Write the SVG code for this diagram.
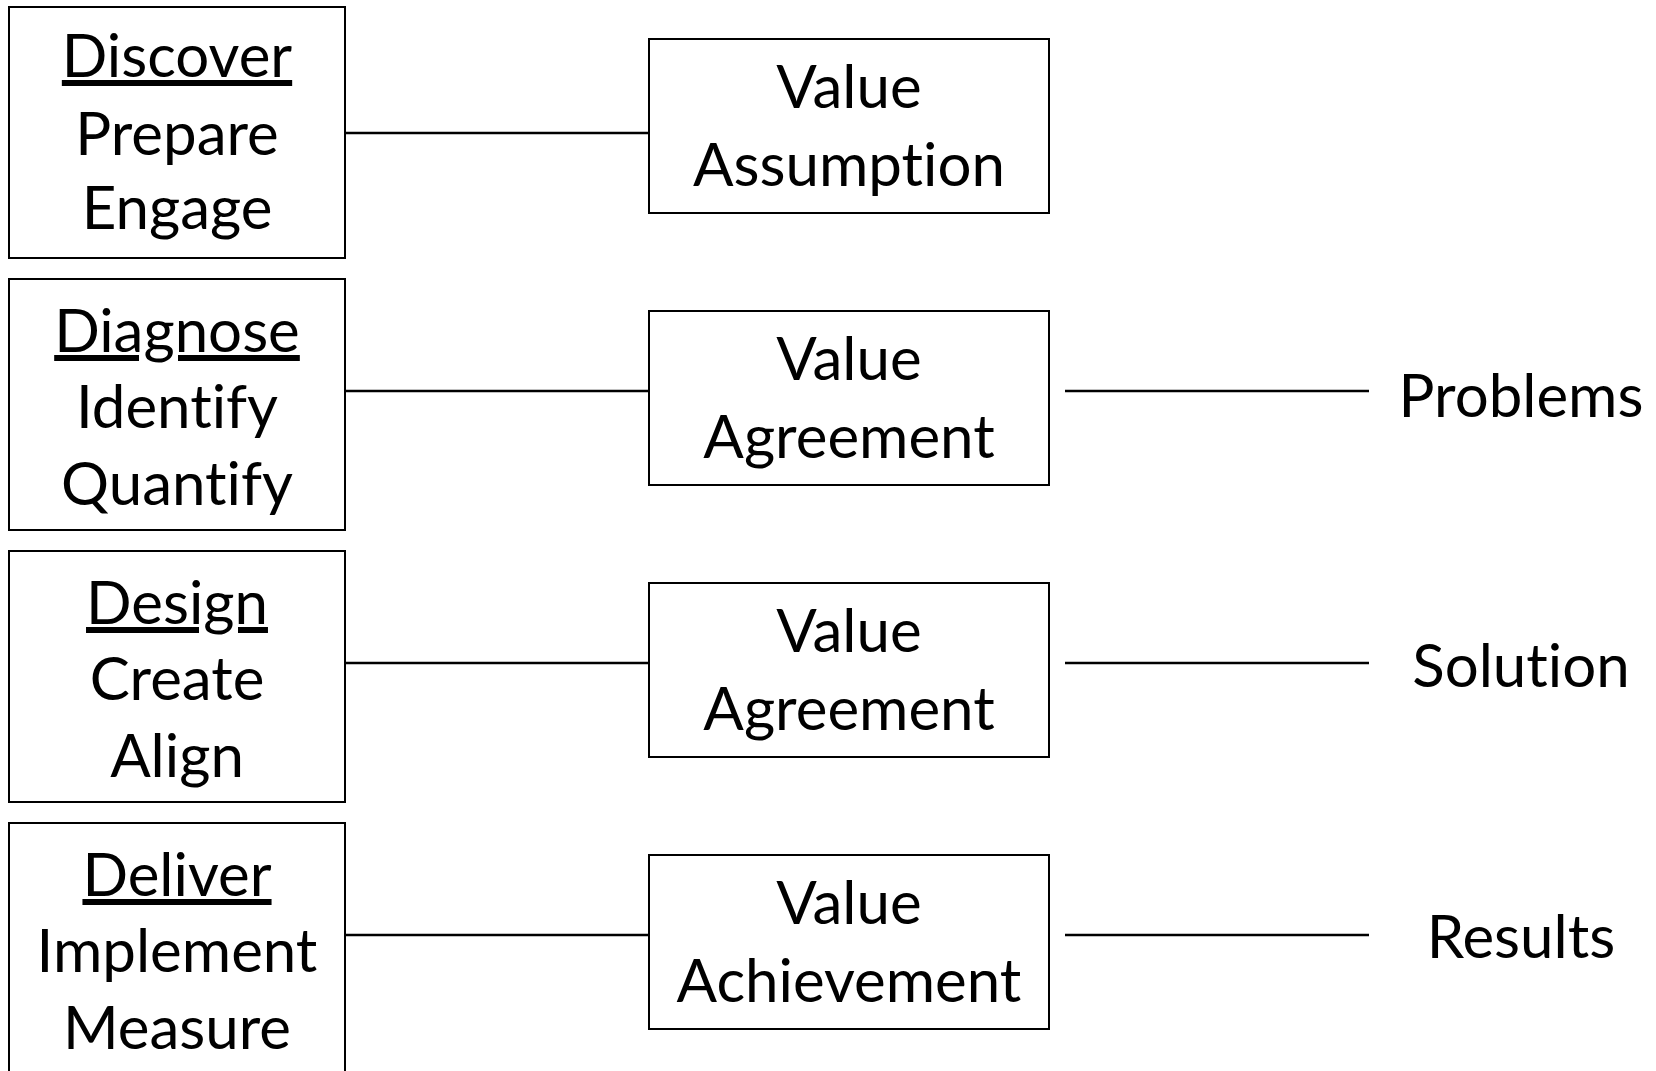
<svg xmlns="http://www.w3.org/2000/svg" width="1656" height="1071" viewBox="0 0 1656 1071">
<style>
.box{fill:#fff;stroke:#000;stroke-width:2}
.t{font-family:Lato,"Liberation Sans",sans-serif;font-size:60px;fill:#000;text-anchor:middle;font-variant-ligatures:none;font-feature-settings:"liga" 0,"clig" 0}
.u{text-decoration:underline}
.c{stroke:#000;stroke-width:2.5;fill:none}
</style>
<rect width="1656" height="1071" fill="#fff"/>
<g id="connectors">
<line class="c" x1="345" y1="133" x2="649" y2="133"/>
<line class="c" x1="345" y1="391" x2="649" y2="391"/>
<line class="c" x1="345" y1="663" x2="649" y2="663"/>
<line class="c" x1="345" y1="935" x2="649" y2="935"/>
<line class="c" x1="1065" y1="391" x2="1369" y2="391"/>
<line class="c" x1="1065" y1="663" x2="1369" y2="663"/>
<line class="c" x1="1065" y1="935" x2="1369" y2="935"/>
</g>
<g id="discover">
<rect class="box" x="9" y="7" width="336" height="251"/>
<text class="t u" x="177" y="77">Discover</text>
<text class="t" x="177" y="155">Prepare</text>
<text class="t" x="177" y="229">Engage</text>
</g>
<g id="diagnose">
<rect class="box" x="9" y="279" width="336" height="251"/>
<text class="t u" x="177" y="352">Diagnose</text>
<text class="t" x="177" y="428">Identify</text>
<text class="t" x="177" y="505">Quantify</text>
</g>
<g id="design">
<rect class="box" x="9" y="551" width="336" height="251"/>
<text class="t u" x="177" y="624">Design</text>
<text class="t" x="177" y="700">Create</text>
<text class="t" x="177" y="777">Align</text>
</g>
<g id="deliver">
<rect class="box" x="9" y="823" width="336" height="251"/>
<text class="t u" x="177" y="896">Deliver</text>
<text class="t" x="177" y="972">Implement</text>
<text class="t" x="177" y="1049">Measure</text>
</g>
<g id="value-assumption">
<rect class="box" x="649" y="39" width="400" height="174"/>
<text class="t" x="849" y="108">Value</text>
<text class="t" x="849" y="186">Assumption</text>
</g>
<g id="value-agreement-1">
<rect class="box" x="649" y="311" width="400" height="174"/>
<text class="t" x="849" y="380">Value</text>
<text class="t" x="849" y="458">Agreement</text>
</g>
<g id="value-agreement-2">
<rect class="box" x="649" y="583" width="400" height="174"/>
<text class="t" x="849" y="652">Value</text>
<text class="t" x="849" y="730">Agreement</text>
</g>
<g id="value-achievement">
<rect class="box" x="649" y="855" width="400" height="174"/>
<text class="t" x="849" y="924">Value</text>
<text class="t" x="849" y="1002">Achievement</text>
</g>
<g id="problems"><text class="t" x="1521" y="417">Problems</text></g>
<g id="solution"><text class="t" x="1521" y="687">Solution</text></g>
<g id="results"><text class="t" x="1521" y="958">Results</text></g>
</svg>
